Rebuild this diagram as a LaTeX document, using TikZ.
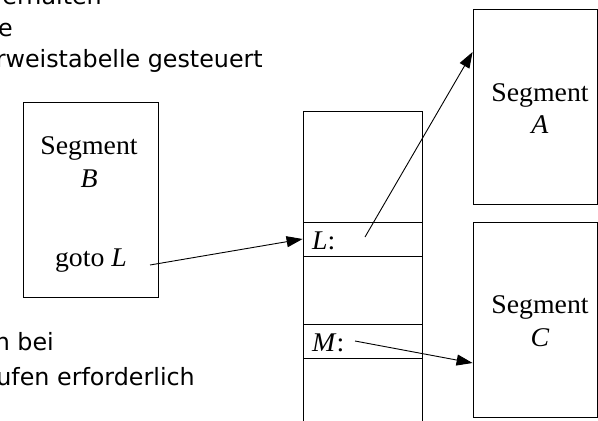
\documentclass[tikz,border=0pt]{standalone}
\usepackage{fontspec}
\setmainfont{Liberation Serif}
\newfontfamily\notefont{DejaVu Sans}
\usetikzlibrary{arrows.meta}
\begin{document}
\begin{tikzpicture}[x=1pt,y=-1pt,
  box/.style={draw,line width=0.8pt},
  seg/.style={font=\fontsize{27}{30}\selectfont,inner sep=0pt,xscale=1.03,transform shape},
  note/.style={font=\notefont\fontsize{23.8}{28}\selectfont,inner sep=0pt,anchor=base east},
  link/.style={line width=0.9pt,-{Triangle[length=16pt,width=11pt]}}]
\useasboundingbox (0,0) rectangle (598,421);
\clip (0,0) rectangle (598,421);

% running text at the left margin
\node[note] (t1) at (102,4) {erhalten};
\node[note] (t2) at (13,36) {e};
\node[note] (t3) at (263,67) {rweistabelle gesteuert};
\node[note] (t4) at (54,350) {h bei};
\node[note] (t5) at (195,385) {ufen erforderlich};

% calling segment B
\draw[box] (23,102) rectangle (158,297);
\node[seg,anchor=base] (sb1) at (89,154) {Segment};
\node[seg,anchor=base] (sb2) at (89,187) {\textit{B}};
\node[seg,anchor=base] (gotoL) at (91,266) {goto \textit{L}};
\coordinate (gotoEnd) at (150,265);

% jump table
\draw[box] (303,440) |- (422,111) -- (422,440);
\node[box,minimum width=119pt,minimum height=34pt,inner sep=0pt] (rowL) at (362.5,239) {};
\node[box,minimum width=119pt,minimum height=34pt,inner sep=0pt] (rowM) at (362.5,341) {};
\node[seg,anchor=base west] (lblL) at (312,249) {\textit{L}:};
\node[seg,anchor=base west] (lblM) at (312,351) {\textit{M}:};
\coordinate (fromL) at (365,237);
\coordinate (fromM) at (355,341);

% target segments
\node[box,minimum width=124pt,minimum height=195pt,inner sep=0pt] (segA) at (535,106.5) {};
\node[seg,anchor=base] (sa1) at (540,101) {Segment};
\node[seg,anchor=base] (sa2) at (540,133) {\textit{A}};
\node[box,minimum width=124pt,minimum height=195pt,inner sep=0pt] (segC) at (535,319.5) {};
\node[seg,anchor=base] (sc1) at (540,313) {Segment};
\node[seg,anchor=base] (sc2) at (540,346) {\textit{C}};

% jumps
\draw[link] (gotoEnd) -- (rowL.west);
\draw[link] (fromL) -- (segA.north west |- 0,52);
\draw[link] (fromM) -- (segC.north west |- 0,363);
\end{tikzpicture}
\end{document}
